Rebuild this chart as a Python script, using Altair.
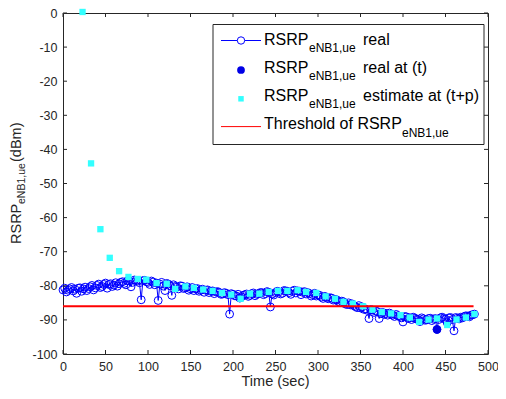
import altair as alt
import pandas as pd

# ---- data ----
# real RSRP samples at t = 0, 4, 8, ... 484
real_t_a = list(range(0, 488, 4))
real_v_a = [-81.2, -81.8, -80.9, -81.5, -82.2, -80.6, -80.9, -81.4, -80.3, -81.2,
            -79.9, -80.5, -79.6, -80.7, -79.4, -79.8, -80.1, -79.0, -79.3, -78.5,
            -80.3, -78.3, -78.6, -84.1, -78.4, -79.0, -78.6, -79.7, -84.3, -79.0,
            -81.4, -79.5, -82.8, -80.2, -80.9, -80.1, -80.6, -81.3, -80.5, -80.9,
            -81.6, -81.0, -81.3, -82.0, -81.5, -81.8, -82.0, -82.4, -82.2, -88.3,
            -82.5, -83.0, -83.6, -82.8, -82.4, -82.8, -82.1, -82.5, -82.0, -82.6,
            -81.7, -86.2, -82.7, -81.6, -82.4, -81.4, -81.6, -82.5, -81.3, -81.5,
            -82.6, -81.7, -82.0, -83.0, -82.2, -82.7, -83.3, -83.1, -83.8, -83.6,
            -84.0, -84.6, -84.5, -85.3, -85.0, -85.3, -86.1, -85.8, -86.2, -86.8,
            -89.6, -87.1, -87.4, -89.6, -87.8, -88.1, -88.0, -88.6, -88.4, -89.0,
            -90.6, -89.1, -89.4, -89.2, -89.8, -90.5, -89.7, -90.0, -89.5, -89.8,
            -92.8, -89.4, -89.6, -90.8, -89.3, -93.2, -89.5, -89.2, -89.0, -88.9,
            -88.6, -88.3]
# real RSRP samples at t = 2, 6, 10, ... 482
real_t_b = list(range(2, 484, 4))
real_v_b = [-80.7, -81.3, -80.5, -81.0, -80.7, -81.6, -80.4, -80.8, -79.9, -80.6,
            -79.5, -80.2, -79.2, -79.6, -80.2, -79.1, -79.4, -78.8, -79.7, -78.6,
            -79.0, -78.4, -79.1, -78.5, -78.8, -79.6, -78.9, -79.2, -79.5, -80.1,
            -79.3, -80.0, -79.7, -80.4, -80.0, -80.8, -80.3, -80.9, -81.4, -80.8,
            -81.3, -81.9, -81.2, -81.6, -82.3, -81.7, -82.5, -82.0, -82.6, -82.3,
            -82.9, -82.5, -83.2, -82.6, -83.1, -82.3, -82.9, -82.3, -82.0, -82.3,
            -81.9, -82.4, -82.0, -81.8, -82.2, -81.5, -82.0, -81.6, -82.1, -81.6,
            -81.9, -82.4, -82.3, -82.6, -83.0, -82.8, -83.7, -83.4, -83.5, -84.2,
            -84.1, -84.9, -84.7, -85.5, -85.6, -85.8, -86.4, -86.5, -86.9, -87.2,
            -87.0, -87.8, -87.6, -88.2, -88.4, -88.6, -88.3, -89.0, -88.8, -89.4,
            -89.0, -89.6, -89.9, -89.5, -89.9, -89.4, -90.1, -89.6, -90.2, -89.6,
            -89.9, -89.2, -89.8, -89.4, -89.9, -89.3, -89.7, -89.4, -88.8, -89.1,
            -88.5]

est_t = [23, 33, 44, 55, 66, 77, 88, 98, 110, 122, 132, 144, 154, 165, 176,
         187, 198, 209, 220, 231, 242, 253, 264, 276, 286, 298, 309, 320, 330, 341,
         353, 364, 375, 386, 397, 408, 419, 430, 440, 452, 463, 474, 484]
est_v = [0.3, -44.1, -63.4, -71.8, -75.7, -77.4, -78.0, -78.2, -79.2, -79.4,
         -80.9, -80.2, -80.6, -81.1, -81.5, -82.1, -82.6, -83.8, -82.3, -82.3,
         -81.8, -81.5, -81.5, -81.3, -81.8, -82.1, -83.1, -83.8, -84.7, -85.2,
         -86.0, -87.0, -87.7, -88.1, -88.6, -89.3, -90.6, -89.9, -89.6, -91.5,
         -89.9, -89.3, -88.3]

now_t = [440]
now_v = [-92.8]

thr_t = [0, 483]
thr_v = [-86.0, -86.0]

x_ticks = [0, 50, 100, 150, 200, 250, 300, 350, 400, 450, 500]
y_ticks = [-100, -90, -80, -70, -60, -50, -40, -30, -20, -10, 0]

# ---- layout ----
W, H = 425, 341
FONT = "Arial"
BLUE = "#0000FF"
CYAN = "#33FFFF"
AX = "#262626"

xs = alt.Scale(domain=[0, 500], nice=False, zero=False)
ys = alt.Scale(domain=[-100, 0], nice=False, zero=False)

real_df = pd.concat([pd.DataFrame({"t": real_t_a, "v": real_v_a}),
                     pd.DataFrame({"t": real_t_b, "v": real_v_b})]).sort_values("t")
est_df = pd.DataFrame({"t": est_t, "v": est_v})
now_df = pd.DataFrame({"t": now_t, "v": now_v})
thr_df = pd.DataFrame({"t": thr_t, "v": thr_v})
xt_df = pd.DataFrame({"t": x_ticks})
yt_df = pd.DataFrame({"v": y_ticks})
one = pd.DataFrame({"a": [0]})

axis_common = dict(title=None, grid=False, domain=False, ticks=False, tickSize=0,
                   labelFontSize=12.5, labelFont=FONT, labelColor=AX, labelPadding=6,
                   labelOverlap=False, labelFlush=False, labelBound=False,
                   labelExpr="'' + datum.value")
x_axis = alt.Axis(values=x_ticks, **axis_common)
y_axis = alt.Axis(values=y_ticks, **axis_common)

X0 = alt.X("t:Q", scale=xs, axis=x_axis)
Y0 = alt.Y("v:Q", scale=ys, axis=y_axis)

real_line = alt.Chart(real_df).mark_line(color=BLUE, strokeWidth=1).encode(
    x=X0, y=Y0, order="t:Q")
real_pts = alt.Chart(real_df).mark_point(shape="circle", filled=False, color=BLUE,
                                         size=62, strokeWidth=1, opacity=1).encode(x=X0, y=Y0)
est_pts = alt.Chart(est_df).mark_point(shape="square", filled=True, color=CYAN,
                                       size=40, opacity=1, clip=False).encode(x=X0, y=Y0)
thr_line = alt.Chart(thr_df).mark_line(color="#FF0000", strokeWidth=2).encode(x=X0, y=Y0)
now_pts = alt.Chart(now_df).mark_point(shape="circle", filled=True, color="#0000E6",
                                       size=70, opacity=1).encode(x=X0, y=Y0)

# inward ticks on all four sides
tk = dict(color=AX, strokeWidth=1)
xb = alt.Chart(xt_df).mark_rule(**tk).encode(x=X0, y=alt.value(H), y2=alt.value(H - 4))
xtp = alt.Chart(xt_df).mark_rule(**tk).encode(x=X0, y=alt.value(0), y2=alt.value(4))
yl = alt.Chart(yt_df).mark_rule(**tk).encode(y=Y0, x=alt.value(0), x2=alt.value(4))
yr = alt.Chart(yt_df).mark_rule(**tk).encode(y=Y0, x=alt.value(W - 4), x2=alt.value(W))


def txt(s, x, y, size, angle=0, color="#000000", align="left", baseline="alphabetic"):
    kw = dict(text=s, fontSize=size, font=FONT, color=color, align=align, baseline=baseline)
    if angle:
        kw["angle"] = angle
    return alt.Chart(one).mark_text(**kw).encode(x=alt.value(x), y=alt.value(y))


# legend
LX0, LX1, LY0, LY1 = 150, 425 - 4, 11.5, 131.5
box = alt.Chart(one).mark_rect(fill="white", stroke=AX, strokeWidth=1).encode(
    x=alt.value(LX0), x2=alt.value(LX1), y=alt.value(LY0), y2=alt.value(LY1))
SX0, SX1, SXC = 158, 198, 178
TX, SUBX, RX = 201, 246, 300
rows = [31.5, 60.0, 87.8, 115.6]
leg = [box,
       alt.Chart(one).mark_rule(color=BLUE, strokeWidth=1).encode(
           x=alt.value(SX0), x2=alt.value(SX1), y=alt.value(rows[0] - 4)),
       alt.Chart(one).mark_point(shape="circle", filled=True, color="white", size=55, opacity=1).encode(
           x=alt.value(SXC), y=alt.value(rows[0] - 4)),
       alt.Chart(one).mark_point(shape="circle", filled=False, color=BLUE, size=55, strokeWidth=1, opacity=1).encode(
           x=alt.value(SXC), y=alt.value(rows[0] - 4)),
       alt.Chart(one).mark_point(shape="circle", filled=True, color="#0000E6", size=60, opacity=1).encode(
           x=alt.value(SXC), y=alt.value(rows[1] - 3)),
       alt.Chart(one).mark_point(shape="square", filled=True, color=CYAN, size=30, opacity=1).encode(
           x=alt.value(SXC), y=alt.value(rows[2] - 2)),
       alt.Chart(one).mark_rule(color="#FF0000", strokeWidth=1).encode(
           x=alt.value(SX0), x2=alt.value(SX1), y=alt.value(rows[3] - 2)),
       ]
suffix = ["real", "real at (t)", "estimate at (t+p)"]
for r, s in zip(rows[:3], suffix):
    leg += [txt("RSRP", TX, r, 16), txt("eNB1,ue", SUBX, r + 7, 12), txt(s, RX, r, 16)]
leg += [txt("Threshold of RSRP", TX, rows[3], 16), txt("eNB1,ue", 339, rows[3] + 8, 12)]

# axis titles
titles = [
    txt("Time (sec)", W / 2, 369, 14.5, color=AX, align="center", baseline="middle"),
    txt("RSRP", -42, 231, 14.5, angle=270, color=AX),
    txt("eNB1,ue", -38.5, 191, 10.5, angle=270, color=AX),
    txt("(dBm)", -42, 149, 14.5, angle=270, color=AX),
]

chart = alt.layer(real_line, real_pts, est_pts, thr_line, now_pts,
                  xb, xtp, yl, yr, *leg, *titles).properties(
    width=W, height=H, autosize="none",
    padding={"left": 55, "top": 5, "right": 10, "bottom": 36},
).configure_view(stroke=AX, strokeWidth=1)

chart.save("out.html", embed_options={"renderer": "svg", "actions": False})
